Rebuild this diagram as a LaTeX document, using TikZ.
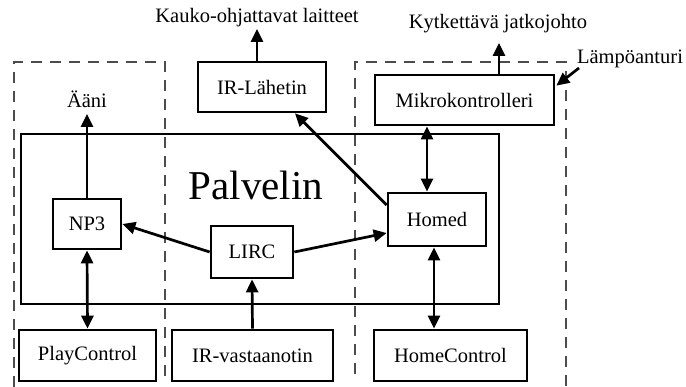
\documentclass[tikz,border=0pt]{standalone}
\usepackage{fontspec}
\setmainfont{Liberation Serif}
\usetikzlibrary{arrows.meta,calc}
\begin{document}
\begin{tikzpicture}[x=1pt,y=-1pt,
  box/.style={draw=black,line width=2.7pt,inner sep=0pt,font=\fontsize{20.5}{24}\selectfont},
  lbl/.style={inner sep=0pt,anchor=base,font=\fontsize{20.5}{24}\selectfont},
  conn/.style={line width=2.7pt,-{Triangle[length=13pt,width=12pt]}},
  biconn/.style={line width=2.7pt,{Triangle[length=13pt,width=12pt]}-{Triangle[length=13pt,width=12pt]}},
  dsh/.style={draw=black!70,line width=1.3pt,dash pattern=on 11pt off 8pt}]
\useasboundingbox (0,0) rectangle (686,387);
% dashed regions
\draw[dsh] (14,387) -- (14,62) -- (165,62) -- (165,382);
\draw[dsh] (355,374) -- (355,62) -- (566,62) -- (566,387);
% server box
\node[draw=black,line width=2.7pt,inner sep=0pt,minimum width=478pt,minimum height=170pt] (srv) at (260,219) {};
\node[lbl,font=\fontsize{41}{48}\selectfont] (pal) at (256,200) {Palvelin};
% boxes
\node[box,minimum width=68pt,minimum height=50pt] (np3) at (87,224) {NP3};
\node[box,minimum width=82pt,minimum height=52pt] (lirc) at (252,252) {LIRC};
\node[box,minimum width=98pt,minimum height=53pt] (homed) at (437,219.5) {Homed};
\node[box,minimum width=128pt,minimum height=50pt] (irl) at (262,87) {IR-Lähetin};
\node[box,minimum width=179pt,minimum height=50pt] (mk) at (464.5,100) {Mikrokontrolleri};
\node[box,minimum width=137pt,minimum height=51pt] (pc) at (87.5,355.5) {PlayControl};
\node[box,minimum width=161pt,minimum height=51pt] (irv) at (252.5,355.5) {IR-vastaanotin};
\node[box,minimum width=153pt,minimum height=51pt] (hc) at (450.5,355.5) {HomeControl};
% labels
\node[lbl] (kauko) at (257,23) {Kauko-ohjattavat laitteet};
\node[lbl] (kyt) at (498,29) {Kytkettävä jatkojohto};
\node[lbl] (lampo) at (630,64) {Lämpöanturi};
\node[lbl] (aani) at (87,108) {Ääni};
\coordinate (kaukoend) at (257,29);
\coordinate (kytend) at (499,43);
\coordinate (lampostart) at (579,68);
\coordinate (aaniend) at (87,114);
% connectors
\draw[conn] (np3.north) -- (aaniend);
\draw[conn] (irl.north -| kaukoend) -- (kaukoend);
\draw[conn] (mk.north -| kytend) -- (kytend);
\draw[conn] (lampostart) -- ($(mk.north east)+(1,12)$);
\draw[biconn] (np3.south) -- (pc.north);
\draw[conn] (lirc.west) -- (np3.east);
\draw[conn] (lirc.east) -- ($(homed.west)+(0,13.5)$);
\draw[conn] (irv.north) -- (lirc.south);
\draw[conn] ($(homed.west)+(0,-14.5)$) -- ($(irl.south)+(33,0)$);
\draw[biconn] (mk.south -| 427,0) -- (homed.north -| 427,0);
\draw[biconn] (homed.south -| 434,0) -- (hc.north -| 434,0);
\end{tikzpicture}
\end{document}
